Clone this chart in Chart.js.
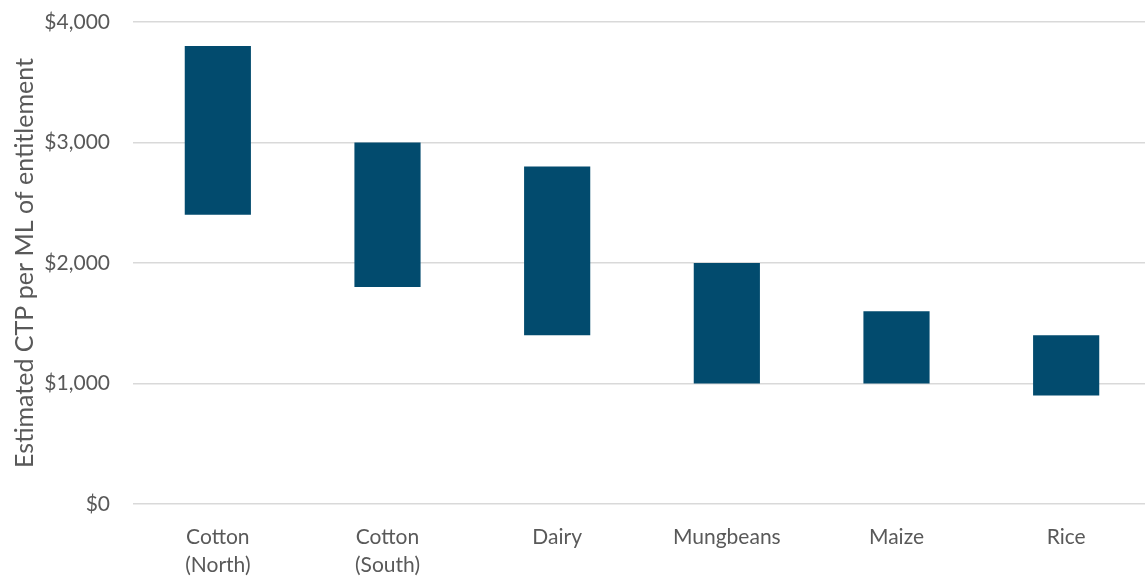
<!DOCTYPE html>
<html>
<head>
<meta charset="utf-8">
<script src="https://cdn.jsdelivr.net/npm/chart.js@4"></script>
<style>
  html, body { margin: 0; padding: 0; background: #ffffff; overflow: hidden; }
  /* plot area runs a few pixels past the right edge of the page */
  #wrap { width: 1151px; height: 579px; position: relative; }
</style>
</head>
<body>
<div id="wrap"><canvas id="chart"></canvas></div>
<script>
// Crop categories (multi-line labels)
const categories = [
  ["Cotton", "(North)"],
  ["Cotton", "(South)"],
  "Dairy",
  "Mungbeans",
  "Maize",
  "Rice"
];
// Low and high ends of the estimated CTP range, $ per ML
const lowValues  = [2400, 1800, 1400, 1000, 1000, 900];
const highValues = [3800, 3000, 2800, 2000, 1600, 1400];
const yTicks = [0, 1000, 2000, 3000, 4000];

const ranges = lowValues.map((lo, i) => [lo, highValues[i]]);

const textColor = '#595959';
const fontFamily = "Lato, 'Open Sans', 'Liberation Sans', sans-serif";

new Chart(document.getElementById('chart'), {
  type: 'bar',
  data: {
    labels: categories,
    datasets: [{
      data: ranges,
      backgroundColor: '#024b6e',
      borderWidth: 0,
      barPercentage: 0.39,
      categoryPercentage: 1.0
    }]
  },
  options: {
    responsive: true,
    maintainAspectRatio: false,
    animation: false,
    layout: { padding: { top: 22, right: 0, bottom: 0, left: 0 } },
    plugins: {
      legend: { display: false },
      tooltip: { enabled: false }
    },
    scales: {
      x: {
        grid: { display: false },
        border: { display: false },
        ticks: {
          color: textColor,
          font: { family: fontFamily, size: 21, lineHeight: 1.35 },
          padding: 11,
          maxRotation: 0,
          autoSkip: false
        },
        afterFit(scale) {
          scale.height = 75;
          scale.paddingLeft = 0;
          scale.paddingRight = 0;
        }
      },
      y: {
        min: 0,
        max: 4000,
        afterBuildTicks(scale) {
          scale.ticks = yTicks.map(v => ({ value: v }));
        },
        grid: {
          color: '#d9d9d9',
          lineWidth: 1.5,
          drawTicks: false
        },
        border: { display: false },
        ticks: {
          color: textColor,
          font: { family: fontFamily, size: 21 },
          padding: 23,
          callback: v => '$' + Number(v).toLocaleString('en-US')
        },
        title: {
          display: true,
          text: 'Estimated CTP per ML of entitlement',
          color: textColor,
          font: { family: fontFamily, size: 25 },
          padding: { top: 10, bottom: 4 }
        },
        afterFit(scale) {
          scale.width = 133;
          // the outer padding already leaves room for the end labels
          scale.paddingTop = 0;
          scale.paddingBottom = 0;
        }
      }
    }
  }
});
</script>
</body>
</html>
